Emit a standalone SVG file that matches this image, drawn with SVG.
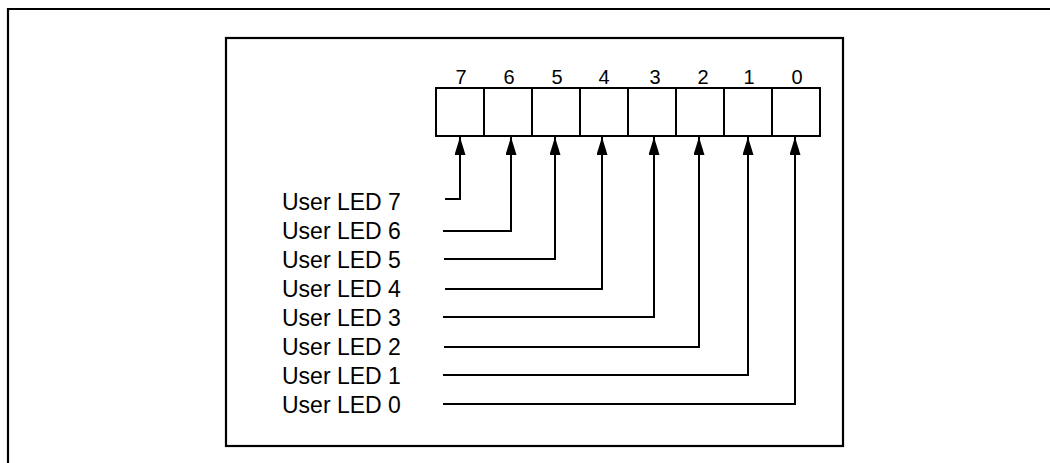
<svg xmlns="http://www.w3.org/2000/svg" width="1050" height="463" viewBox="0 0 1050 463">
  <style>
    .frame { fill: none; stroke: #000; stroke-width: 2.2; }
    .cell { fill: #fff; stroke: #000; stroke-width: 2; }
    .wire { fill: none; stroke: #000; stroke-width: 2; marker-end: url(#arrow); }
    .bit { font-family: "Liberation Sans", Arial, sans-serif; font-size: 20px; fill: #000; text-anchor: middle; }
    .label { font-family: "Liberation Sans", Arial, sans-serif; font-size: 23px; fill: #000; }
  </style>
  <defs>
    <marker id="arrow" viewBox="0 0 18 11" refX="18" refY="5.5" markerWidth="18" markerHeight="11" markerUnits="userSpaceOnUse" orient="auto">
      <path d="M0,0 L18,5.5 L0,11 Z" fill="#000"/>
    </marker>
  </defs>

  <!-- outer page frame (runs off the right and bottom edges) -->
  <path class="frame" d="M1050,9 H8 V463"/>
  <!-- inner figure frame -->
  <rect class="frame" x="226" y="38" width="617" height="408"/>

  <!-- 8-bit register -->
  <g id="register">
    <rect class="cell" x="436" y="88" width="48" height="48"/>
    <rect class="cell" x="484" y="88" width="48" height="48"/>
    <rect class="cell" x="532" y="88" width="48" height="48"/>
    <rect class="cell" x="580" y="88" width="48" height="48"/>
    <rect class="cell" x="628" y="88" width="48" height="48"/>
    <rect class="cell" x="676" y="88" width="48" height="48"/>
    <rect class="cell" x="724" y="88" width="48" height="48"/>
    <rect class="cell" x="772" y="88" width="48" height="48"/>
    <text class="bit" x="461" y="84">7</text>
    <text class="bit" x="509" y="84">6</text>
    <text class="bit" x="557" y="84">5</text>
    <text class="bit" x="604" y="84">4</text>
    <text class="bit" x="655" y="84">3</text>
    <text class="bit" x="703" y="84">2</text>
    <text class="bit" x="749" y="84">1</text>
    <text class="bit" x="797" y="84">0</text>
  </g>

  <!-- LED labels -->
  <g id="led7"><text class="label" x="282" y="210">User LED 7</text></g>
  <g id="led6"><text class="label" x="282" y="239">User LED 6</text></g>
  <g id="led5"><text class="label" x="282" y="268">User LED 5</text></g>
  <g id="led4"><text class="label" x="282" y="297">User LED 4</text></g>
  <g id="led3"><text class="label" x="282" y="326">User LED 3</text></g>
  <g id="led2"><text class="label" x="282" y="355">User LED 2</text></g>
  <g id="led1"><text class="label" x="282" y="384">User LED 1</text></g>
  <g id="led0"><text class="label" x="282" y="413">User LED 0</text></g>

  <!-- connectors from each label to its bit -->
  <g id="connectors">
    <path class="wire" d="M445,199 H460 V137"/>
    <path class="wire" d="M443,231 H511 V137"/>
    <path class="wire" d="M444,259 H555 V137"/>
    <path class="wire" d="M445,289 H602 V137"/>
    <path class="wire" d="M443,317 H654 V137"/>
    <path class="wire" d="M444,347 H699 V137"/>
    <path class="wire" d="M443,375 H748 V137"/>
    <path class="wire" d="M443,404 H795 V137"/>
  </g>
</svg>
